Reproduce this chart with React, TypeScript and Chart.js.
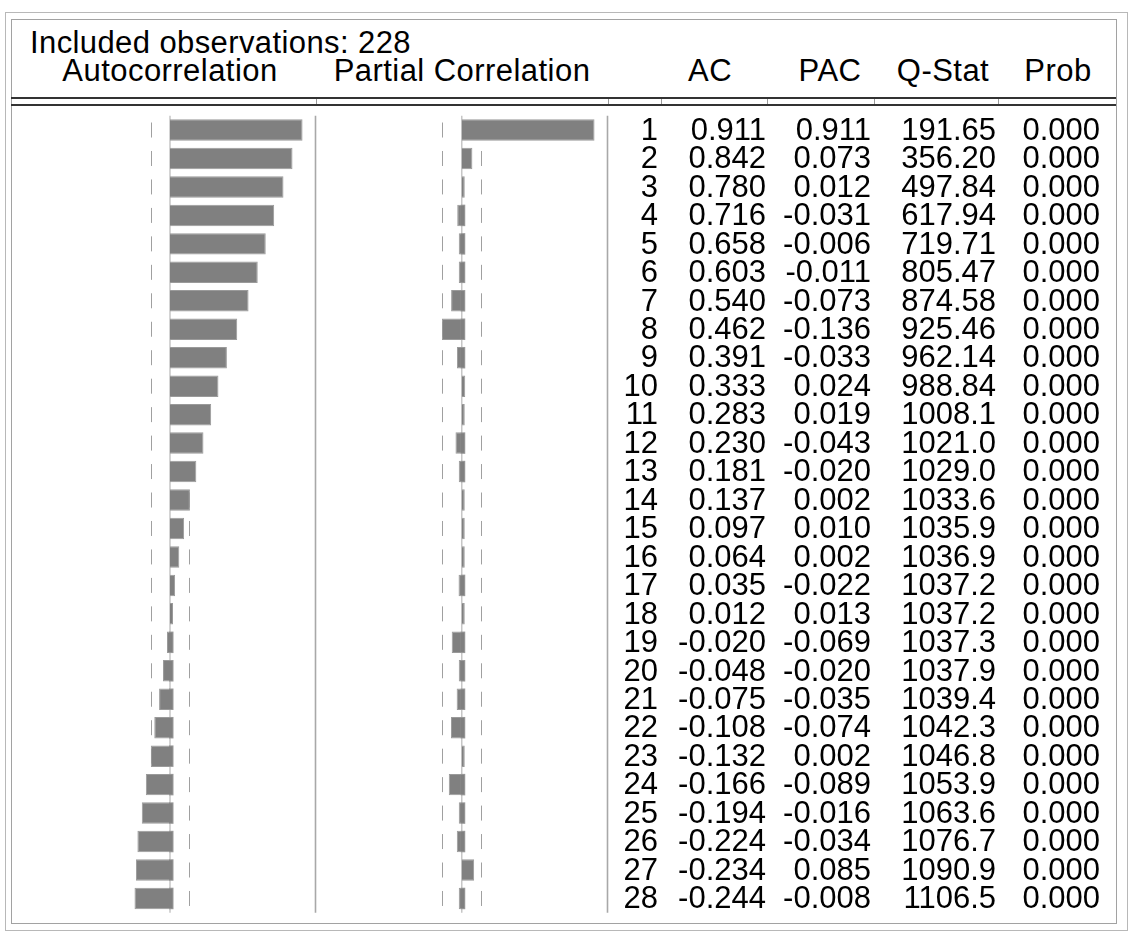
import React, { useEffect, useRef } from "react";
import { Chart, registerables } from "chart.js";

Chart.register(...registerables);

// ---------------- data ----------------
const includedObs = 228;
const lags = [
  "1", "2", "3", "4", "5", "6", "7", "8", "9", "10", "11", "12", "13", "14",
  "15", "16", "17", "18", "19", "20", "21", "22", "23", "24", "25", "26", "27", "28",
];
const acValues = [
  0.911, 0.842, 0.78, 0.716, 0.658, 0.603, 0.54, 0.462, 0.391, 0.333, 0.283, 0.23,
  0.181, 0.137, 0.097, 0.064, 0.035, 0.012, -0.02, -0.048, -0.075, -0.108, -0.132,
  -0.166, -0.194, -0.224, -0.234, -0.244,
];
const pacValues = [
  0.911, 0.073, 0.012, -0.031, -0.006, -0.011, -0.073, -0.136, -0.033, 0.024, 0.019,
  -0.043, -0.02, 0.002, 0.01, 0.002, -0.022, 0.013, -0.069, -0.02, -0.035, -0.074,
  0.002, -0.089, -0.016, -0.034, 0.085, -0.008,
];
const qStatValues = [
  191.65, 356.2, 497.84, 617.94, 719.71, 805.47, 874.58, 925.46, 962.14, 988.84,
  1008.1, 1021.0, 1029.0, 1033.6, 1035.9, 1036.9, 1037.2, 1037.2, 1037.3, 1037.9,
  1039.4, 1042.3, 1046.8, 1053.9, 1063.6, 1076.7, 1090.9, 1106.5,
];
const probValues = [
  0, 0, 0, 0, 0, 0, 0, 0, 0, 0, 0, 0, 0, 0, 0, 0, 0, 0, 0, 0, 0, 0, 0, 0, 0, 0, 0, 0,
];
const headerLabels = ["AC", "PAC", "Q-Stat", "Prob"];
const confBand = 0.1325; // approx. 2/sqrt(228)

// ---------------- layout constants ----------------
const FONT = '"Liberation Sans", Arial, Helvetica, sans-serif';
const FS = 31;
const CHART_TOP = 111;
const CHART_H = 806;
const PAD_TOP = 4.8;
const PAD_BOTTOM = 4.3;
const ROW_TOP = CHART_TOP + PAD_TOP;
const ROW_H = (CHART_H - PAD_TOP - PAD_BOTTOM) / lags.length;
const BAR_FILL = "#808080";
const BAR_EDGE = "#9a9a9a";

const guidesPlugin = {
  id: "corrGuides",
  beforeDatasetsDraw(chart: any) {
    const { ctx, chartArea, scales } = chart;
    const xs = scales.x;
    const ys = scales.y;
    ctx.save();
    // zero line
    const x0 = xs.getPixelForValue(0);
    ctx.strokeStyle = "#c6c6c6";
    ctx.lineWidth = 1.5;
    ctx.beginPath();
    ctx.moveTo(x0, chartArea.top);
    ctx.lineTo(x0, chartArea.bottom);
    ctx.stroke();
    // confidence dashes, one per lag
    ctx.strokeStyle = "#a0a0a0";
    ctx.lineWidth = 1;
    ctx.beginPath();
    for (let i = 0; i < lags.length; i++) {
      const yc = ys.getPixelForValue(i);
      for (const b of [-confBand, confBand]) {
        const xb = Math.round(xs.getPixelForValue(b)) + 0.5;
        ctx.moveTo(xb, yc - 7.5);
        ctx.lineTo(xb, yc + 7.5);
      }
    }
    ctx.stroke();
    ctx.restore();
  },
  afterDatasetsDraw(chart: any) {
    // negative bars are drawn a few pixels past the zero line (as in the original output)
    const { ctx } = chart;
    const meta = chart.getDatasetMeta(0);
    const vals = chart.data.datasets[0].data as number[];
    ctx.save();
    meta.data.forEach((bar: any, i: number) => {
      if (vals[i] >= 0) return;
      const { y, base, height } = bar.getProps(["y", "base", "height"], true);
      const top = y - height / 2;
      const ext = 3.5;
      ctx.fillStyle = BAR_EDGE;
      ctx.fillRect(base - 1, top, ext + 1, height);
      ctx.fillStyle = BAR_FILL;
      ctx.fillRect(base - 1, top + 1, ext, height - 2);
    });
    ctx.restore();
  },
  afterDraw(chart: any) {
    const { ctx, chartArea, scales } = chart;
    const xr = scales.x.getPixelForValue(1);
    ctx.save();
    ctx.strokeStyle = "#a8a8a8";
    ctx.lineWidth = 1.6;
    ctx.beginPath();
    ctx.moveTo(xr, chartArea.top);
    ctx.lineTo(xr, chartArea.bottom);
    ctx.stroke();
    ctx.restore();
  },
};

function makeCorrChart(canvas: HTMLCanvasElement, values: number[], padLeft: number, padRight: number) {
  return new Chart(canvas, {
    type: "bar",
    data: {
      labels: lags,
      datasets: [
        {
          data: values,
          backgroundColor: BAR_FILL,
          borderColor: BAR_EDGE,
          borderWidth: 1,
          barPercentage: 0.755,
          categoryPercentage: 1,
          minBarLength: 3,
        },
      ],
    },
    options: {
      indexAxis: "y",
      responsive: false,
      maintainAspectRatio: false,
      animation: false,
      devicePixelRatio: 1,
      events: [],
      layout: { padding: { left: padLeft, right: padRight, top: PAD_TOP, bottom: PAD_BOTTOM } },
      scales: {
        x: { type: "linear", min: -1, max: 1, display: false },
        y: { type: "category", display: false, offset: true },
      },
      plugins: { legend: { display: false }, tooltip: { enabled: false } },
    },
    plugins: [guidesPlugin],
  } as any);
}

const abs = (s: React.CSSProperties): React.CSSProperties => ({ position: "absolute", ...s });

function Cell({ right, top, text }: { right: number; top: number; text: string }) {
  return (
    <div
      style={abs({
        left: right - 200,
        width: 200,
        top,
        height: ROW_H,
        lineHeight: `${ROW_H}px`,
        textAlign: "right",
        whiteSpace: "pre",
      })}
    >
      {text}
    </div>
  );
}

function Centered({ center, top, text }: { center: number; top: number; text: string }) {
  return (
    <div
      style={abs({
        left: center - 200,
        width: 400,
        top,
        lineHeight: `${FS}px`,
        textAlign: "center",
        whiteSpace: "pre",
        letterSpacing: "0.45px",
      })}
    >
      {text}
    </div>
  );
}

export default function App() {
  const acRef = useRef<HTMLCanvasElement>(null);
  const pacRef = useRef<HTMLCanvasElement>(null);

  useEffect(() => {
    const c1 = makeCorrChart(acRef.current!, acValues, 4.5, 4.5);
    const c2 = makeCorrChart(pacRef.current!, pacValues, 4, 4.5);
    return () => {
      c1.destroy();
      c2.destroy();
    };
  }, []);

  const colRights = [658, 766, 871, 996, 1100];
  const headerCenters = [710, 830, 943, 1058];
  const tickXs = [316, 608, 661, 767, 874, 998];

  return (
    <div
      style={abs({
        left: 0,
        top: 0,
        width: 1132,
        height: 942,
        background: "#fff",
        fontFamily: FONT,
        fontSize: FS,
        color: "#000",
        overflow: "hidden",
      })}
    >
      {/* frames */}
      <div style={abs({ left: 5, top: 12, width: 1123, height: 919, border: "1px solid #b8b8b8", boxSizing: "border-box" })} />
      <div style={abs({ left: 11, top: 19, width: 1106, height: 905, border: "1px solid #a2a2a2", boxSizing: "border-box" })} />

      {/* header */}
      <div style={abs({ left: 30, top: 27, lineHeight: `${FS}px`, whiteSpace: "pre", letterSpacing: "0.4px" })}>
        {`Included observations: ${includedObs}`}
      </div>
      <Centered center={170} top={55} text="Autocorrelation" />
      <Centered center={462} top={55} text="Partial Correlation" />
      {headerLabels.map((h, i) => (
        <Centered key={h} center={headerCenters[i]} top={55} text={h} />
      ))}

      {/* double rule */}
      <div style={abs({ left: 11, top: 97, width: 1105, height: 2, background: "#333" })} />
      <div style={abs({ left: 11, top: 104, width: 1105, height: 2, background: "#333" })} />
      {tickXs.map((x) => (
        <div key={x} style={abs({ left: x, top: 99, width: 1, height: 5, background: "#999" })} />
      ))}

      {/* charts */}
      <canvas ref={acRef} width={300} height={CHART_H} style={abs({ left: 20, top: CHART_TOP, width: 300, height: CHART_H })} />
      <canvas ref={pacRef} width={300} height={CHART_H} style={abs({ left: 312, top: CHART_TOP, width: 300, height: CHART_H })} />

      {/* table */}
      {lags.map((lag, i) => {
        const top = ROW_TOP + i * ROW_H;
        return (
          <React.Fragment key={lag}>
            <Cell right={colRights[0]} top={top} text={lag} />
            <Cell right={colRights[1]} top={top} text={acValues[i].toFixed(3)} />
            <Cell right={colRights[2]} top={top} text={pacValues[i].toFixed(3)} />
            <Cell right={colRights[3]} top={top} text={qStatValues[i].toPrecision(5)} />
            <Cell right={colRights[4]} top={top} text={probValues[i].toFixed(3)} />
          </React.Fragment>
        );
      })}
    </div>
  );
}
